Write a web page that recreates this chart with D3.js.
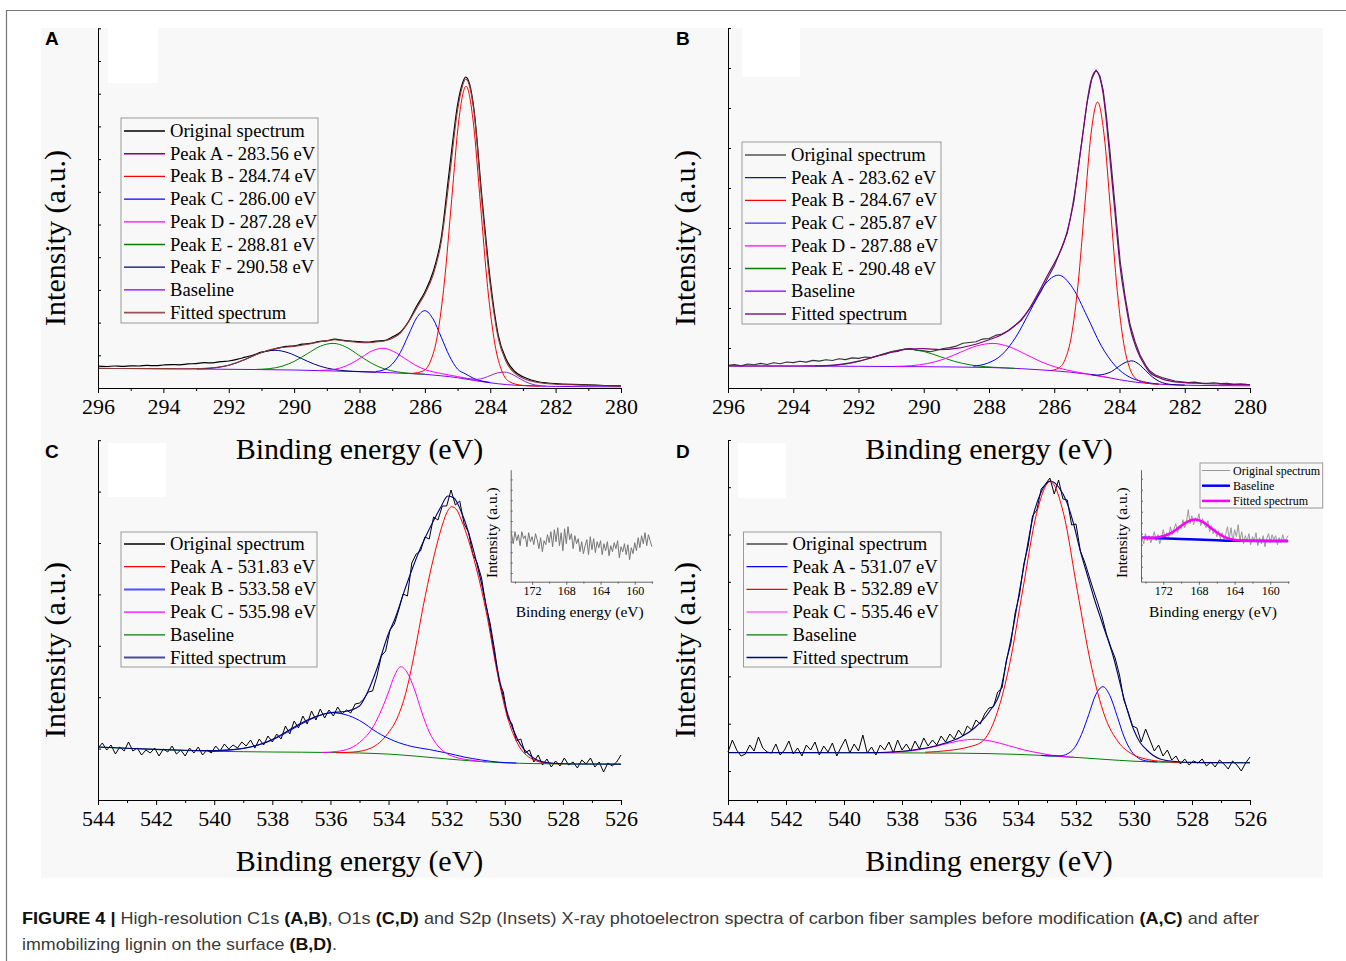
<!DOCTYPE html>
<html>
<head>
<meta charset="utf-8">
<script src="https://cdn.jsdelivr.net/npm/d3@7"></script>
<style>
body { margin: 0; background: #fff; }
svg { display: block; }
</style>
</head>
<body>
<svg id="fig" width="1346" height="961"></svg>
<script>
// ---------- data: C1s before modification (panel A) ----------
var baseA = [[296,19.6],[295,19.4],[294,19.2],[293,19.0],[292,18.7],[291,18.4],[290,18.0],[289,17.2],[288,16.3],[287.5,15.8],[287,15.2],[286.5,14.5],[286,13.7],[285.5,12.2],[285,10.3],[284.5,7.6],[284,5.2],[283.5,3.4],[283,2.4],[282.5,1.9],[282,1.6],[281,1.3],[280,1.2]];
var peakA_A = [[284.82,9.75],[284.61,9.15],[284.40,8.7],[284.19,10.05],[283.98,12.7],[283.77,15.2],[283.56,15.8],[283.35,14.0],[283.14,10.2],[282.93,6.4],[282.72,3.8],[282.51,2.45],[282.30,1.9]];
var peakB_A = [[286.4,14.6],[286.06,16.9],[285.84,25.9],[285.62,51.9],[285.40,106.9],[285.18,188.4],[284.96,268.2],[284.74,301.8],[284.52,266.2],[284.30,184.0],[284.08,100.6],[283.86,44.2],[283.64,16.6],[283.42,6.4],[283.0,2.6],[282.5,1.9]];
var peakC_A = [[287.5,16.5],[287.25,18.3],[287.0,23.8],[286.75,35.5],[286.5,53.1],[286.25,70.2],[286.0,77.3],[285.75,69.1],[285.5,50.8],[285.25,32.05],[285.0,18.9],[284.75,14.0],[284.5,9.5],[284.25,6.8],[284.0,5.4]];
var peakD_A = [[289.23,17.65],[288.91,18.2],[288.58,20.1],[288.26,24.35],[287.93,30.8],[287.61,37.2],[287.28,39.7],[286.96,36.5],[286.63,29.85],[286.31,23.2],[285.98,18.25],[285.5,14.5],[285.0,11.4],[284.5,8.2],[284.0,5.5]];
var peakE_A = [[291.15,18.65],[290.76,19.35],[290.37,21.75],[289.98,26.9],[289.59,34.4],[289.20,41.75],[288.81,44.65],[288.42,41.1],[288.03,33.0],[287.64,24.9],[287.25,19.2],[286.86,16.2],[286.47,14.75],[286.0,13.8]];
var peakF_A = [[292.98,19.15],[292.58,19.7],[292.18,21.4],[291.78,24.9],[291.38,30.3],[290.98,35.6],[290.58,37.7],[290.18,35.25],[289.78,29.6],[289.38,23.8],[288.98,19.8],[288.58,17.65],[288.18,16.7],[287.5,15.9]];
var fitA = [[296,19.6],[295,19.5],[294,19.4],[293.5,19.3],[293,19.5],[292.5,20.3],[292,22.8],[291.5,28.6],[291,35.6],[290.5,39.9],[290,41.6],[289.5,44.2],[289,47.5],[288.75,48.2],[288.5,47.3],[288,45.6],[287.75,45.3],[287.5,46.0],[287.25,47.0],[287,49.5],[286.75,55],[286.5,66],[286.25,80],[286,94],[285.75,113],[285.5,146],[285.25,210],[285,278],[284.875,299],[284.75,309],[284.625,301],[284.5,277],[284.25,184],[284,103],[283.75,49],[283.5,25.5],[283.25,14.8],[283,9.8],[282.75,7.0],[282.5,5.2],[282,3.8],[281.5,3.2],[281,2.7],[280.5,2.2],[280,1.9]];
var origA = [[296,21.8],[295.75,21.5],[295.5,22.0],[295.25,21.6],[295,22.1],[294.75,22.0],[294.5,22.6],[294.25,22.3],[294,23.0],[293.75,23.4],[293.5,23.2],[293.25,24.1],[293,24.4],[292.75,25.3],[292.5,25.1],[292.25,26.4],[292,27.0],[291.75,28.6],[291.5,30.8],[291.25,33.0],[291,35.8],[290.75,37.5],[290.5,39.9],[290.25,41.6],[290,42.2],[289.75,43.8],[289.5,44.6],[289.25,46.5],[289,47.2],[288.75,48.8],[288.5,47.6],[288.25,47.0],[288,46.3],[287.75,45.8],[287.5,46.9],[287.25,47.3],[287,51.0],[286.75,55.8],[286.5,66.5],[286.25,82],[286,96],[285.75,116],[285.5,150],[285.25,218],[285,283],[284.875,302],[284.75,311],[284.625,303],[284.5,279],[284.25,189],[284,108],[283.75,52],[283.5,28],[283.25,16.5],[283,11.2],[282.75,8.0],[282.5,6.0],[282.25,5.0],[282,4.4],[281.5,3.6],[281,3.1],[280.5,2.5],[280,2.2]];

// ---------- data: C1s after lignin (panel B) ----------
var baseB = [[296,22.0],[295,21.95],[294,21.9],[293,21.8],[292,21.7],[291,21.5],[290,21.3],[289,21.0],[288,20.5],[287.5,20.0],[287,19.3],[286.5,18.3],[286,17.2],[285.5,15.8],[285,13.9],[284.5,11.3],[284,8.3],[283.5,5.8],[283,4.3],[282.5,3.3],[282,2.8],[281,2.4],[280,2.2]];
var peakA_B = [[284.88,13.5],[284.67,12.9],[284.46,13.85],[284.25,16.35],[284.04,21.1],[283.83,25.45],[283.62,27.1],[283.41,23.9],[283.20,17.5],[282.99,11.05],[282.78,6.55],[282.57,4.3],[282.36,3.4],[282.0,2.9]];
var peakB_B = [[286.1,17.5],[285.87,19.9],[285.67,28.3],[285.47,52.8],[285.27,103.9],[285.07,180.4],[284.87,254.8],[284.67,286.0],[284.47,252.6],[284.27,175.9],[284.07,97.5],[283.87,44.4],[283.67,18.3],[283.47,8.7],[283.2,5.2],[282.8,3.7]];
var peakC_B = [[288.48,21.8],[288.05,24.75],[287.61,33.1],[287.18,50.8],[286.74,77.0],[286.31,102.6],[285.87,112.85],[285.44,100.3],[285.00,72.1],[284.57,42.9],[284.13,22.1],[283.70,11.0],[283.26,6.2],[282.8,3.9]];
var peakD_B = [[290.88,21.65],[290.38,22.35],[289.88,24.5],[289.38,28.95],[288.88,35.7],[288.38,42.05],[287.88,44.6],[287.38,41.2],[286.88,33.75],[286.38,25.9],[285.88,20.15],[285.38,16.4],[284.88,13.55],[284.4,10.8]];
var peakE_B = [[293.33,22.0],[292.86,22.5],[292.38,24.0],[291.91,27.25],[291.43,32.05],[290.96,36.75],[290.48,38.7],[290.01,36.65],[289.53,31.7],[289.06,26.65],[288.58,23.15],[288.11,21.3],[287.63,20.35],[287.2,19.6]];
var fitB = [[296,22.0],[295,22.0],[294,22.0],[293.5,22.1],[293,22.4],[292.5,23.8],[292,26.8],[291.5,31.3],[291,35.8],[290.5,38.9],[290,39.3],[289.5,38.4],[289,39.6],[288.5,43.0],[288,48.3],[287.66,52.5],[287.4,57.5],[287.05,67],[286.75,80],[286.44,98],[286.2,113],[285.93,129],[285.7,146],[285.52,168],[285.35,200],[285.21,233],[285.08,265],[284.96,293],[284.84,311],[284.72,317],[284.6,310],[284.5,294],[284.4,266],[284.29,228],[284.14,176],[283.98,121],[283.83,88],[283.68,61],[283.52,43],[283.37,31],[283.2,21.5],[283.07,15.5],[282.8,10.5],[282.55,7.6],[282,5.3],[281.5,4.6],[281,4.0],[280.5,3.6],[280,3.3]];
var origB = [[296.0,22.6],[295.8,23.4],[295.6,22.1],[295.4,24.0],[295.2,23.2],[295.0,24.6],[294.8,23.5],[294.6,25.2],[294.4,24.3],[294.2,26.0],[294.0,25.4],[293.8,26.8],[293.6,25.9],[293.4,27.6],[293.2,26.9],[293.0,28.3],[292.8,27.5],[292.6,29.2],[292.4,28.4],[292.2,30.1],[292.0,29.6],[291.8,31.0],[291.6,30.4],[291.4,32.2],[291.2,33.5],[291.0,35.8],[290.8,36.6],[290.6,38.9],[290.4,39.4],[290.2,37.6],[290.0,37.1],[289.8,36.2],[289.6,37.8],[289.4,39.5],[289.2,40.4],[289.0,41.9],[288.8,44.8],[288.6,45.5],[288.4,46.2],[288.2,48.9],[288.0,49.5],[287.8,52.6],[287.6,54.0],[287.4,57.5],[287.2,62.8],[287.0,68.0],[286.8,77.0],[286.6,86.0],[286.4,97.0],[286.2,110],[286.0,122],[285.8,138],[285.6,155],[285.4,186],[285.2,236],[285.0,284],[284.85,309],[284.72,318],[284.6,312],[284.5,298],[284.4,272],[284.29,236],[284.14,184],[283.98,127],[283.83,92],[283.68,64],[283.52,46],[283.37,33],[283.2,23],[283.07,17],[282.9,13.0],[282.7,10.5],[282.5,8.8],[282.3,7.0],[282.1,6.3],[281.9,5.4],[281.7,5.9],[281.5,5.0],[281.3,4.8],[281.1,5.3],[280.9,4.4],[280.7,4.6],[280.5,3.8],[280.3,4.3],[280.1,3.6],[280.0,3.5]];

// ---------- data: O1s before modification (panel C) ----------
var baseC = [[544,53.0],[543,51.6],[542,50.5],[541,49.5],[540,48.7],[539,48.3],[538,48.0],[537,47.8],[536,47.5],[535,47.0],[534,45.9],[533.5,44.9],[533,43.7],[532.5,42.4],[532,41.1],[531.5,39.9],[531,38.8],[530.5,37.9],[530,37.2],[529,36.4],[528,36.1],[527,35.9],[526,35.8]];
var redC = [[535.8,47.3],[535.2,48.0],[534.6,52],[534.02,66.7],[533.7,82],[533.41,106.7],[533.1,148],[532.81,193.3],[532.5,236],[532.2,270],[532.0,287],[531.83,293.3],[531.65,290],[531.48,279],[531.25,260],[530.99,233],[530.63,187],[530.27,129],[529.91,83],[529.55,56],[529.06,41],[528.58,37],[528.0,36.1]];
var blueC = [[540.2,48.6],[539.6,49.5],[539.0,51.5],[538.5,54.8],[538.0,60.0],[537.51,67.4],[537.0,76.0],[536.5,83.0],[535.98,87.3],[535.5,85.5],[535.0,79.5],[534.38,67.4],[533.8,59.0],[533.2,53.5],[532.6,50.5],[532.0,47.0],[531.4,43.0],[530.8,40.0],[530.2,37.8],[529.6,37.0]];
var magC = [[536.3,47.5],[535.8,48.5],[535.3,52],[534.9,60],[534.6,70],[534.26,89],[534.0,108],[533.8,124],[533.58,133.3],[533.35,127],[533.1,110],[532.87,89],[532.6,68],[532.3,54],[532.0,46.5],[531.6,42],[531.2,40],[530.63,38]];
var fitC = [[544,53.0],[543,51.7],[542,50.6],[541,49.8],[540,49.4],[539.5,50.2],[539,51.8],[538.5,55.0],[538,60.6],[537.5,68.6],[537,77.0],[536.5,83.5],[536,87.3],[535.5,88.5],[535,94],[534.74,106.7],[534.38,133],[534.02,165],[533.77,182],[533.41,213],[532.93,250],[532.44,280],[532.2,293],[531.96,304],[531.75,302],[531.48,287],[530.99,240],[530.63,193],[530.27,133],[529.91,87],[529.55,60],[529.06,43],[528.58,37.5],[528,36.3],[527,36.0],[526,35.9]];
var origC_start = 544, origC_step = 0.15;
var origC = [52,57,50,55,46,53,49,58,49,52,45,50,47,52,44,51,48,54,46,50,44,52,47,53,45,50,47,54,49,56,51,55,52,58,54,60,52,61,55,64,58,66,61,74,66,79,72,84,76,89,80,91,82,90,84,93,86,90,87,96,97,101,108,109,124,144,149,170,176,190,206,204,237,246,249,263,261,283,280,294,294,310,295,299,276,268,246,237,222,195,176,150,119,108,82,76,59,61,47,50,38,45,35,41,33,39,34,42,35,38,32,40,36,42,33,38,28,37,34,38,45];

// ---------- data: O1s after lignin (panel D) ----------
var baseD = [[544,47.5],[540,47.3],[537,47.0],[536,46.8],[535,46.4],[534,45.6],[533,44.4],[532,42.6],[531,40.6],[530,38.8],[529,37.8],[528,37.4],[526,37.2]];
var blueD = [[533.2,44.6],[532.9,44.0],[532.54,44.2],[532.30,46.1],[532.05,52.3],[531.81,65.6],[531.56,85.5],[531.32,105.2],[531.07,113.3],[530.83,104.3],[530.58,83.8],[530.34,63.0],[530.09,48.8],[529.85,41.9],[529.60,39.2],[529.2,38.1]];
var redD = [[537.2,47.8],[536.4,49.5],[535.71,53],[535.24,58.3],[534.77,82.9],[534.30,134.3],[533.83,211.1],[533.36,286.4],[532.89,318.4],[532.42,285.4],[531.95,208.7],[531.48,135],[531.01,84],[530.54,58],[530.07,46],[529.6,41],[529.0,38.5],[528.4,37.6]];
var magD = [[538.85,47.35],[538.29,47.8],[537.72,49.0],[537.16,51.6],[536.59,55.4],[536.03,59.2],[535.46,60.7],[534.90,58.7],[534.33,54.4],[533.77,49.9],[533.20,46.6],[532.64,43.9],[532.07,42.7]];
var fitD = [[544,47.4],[542,47.4],[540,47.3],[539,47.4],[538.5,47.8],[538,48.8],[537.5,50.5],[537,53.0],[536.5,57.0],[536,62.5],[535.5,72],[535,88],[534.6,110],[534.39,140],[534.15,175],[533.93,212],[533.7,250],[533.47,285],[533.2,308],[532.89,319],[532.6,313],[532.32,298],[532.1,278],[531.86,250],[531.6,224],[531.4,204],[531.06,174],[530.71,143],[530.37,104],[530.02,71],[529.8,58],[529.56,50],[529.1,41],[528.5,38.3],[528,37.6],[527,37.3],[526,37.2]];
var origD_start = 544, origD_step = 0.15;
var origD = [48,60,50,44,46,55,49,63,52,48,47,56,45,50,59,46,52,44,55,50,58,45,54,48,57,44,53,61,47,56,49,65,47,53,45,55,50,58,47,60,50,56,49,59,51,62,54,60,55,64,58,66,61,70,64,74,70,80,76,86,92,93,108,112,140,156,187,205,236,254,284,290,311,316,322,306,320,301,300,275,276,249,238,224,210,197,183,166,153,142,125,100,88,74,72,58,71,60,49,55,44,50,40,44,36,41,35,39,37,41,34,38,33,40,36,31,39,35,29,37,43];

// ---------- data: S2p insets ----------
var insetC_start = 174.4, insetC_step = 0.2;
var insetC = [48,38,50,41,47,36,50,43,46,35,49,40,45,37,48,42,33,44,30,41,37,47,39,50,35,52,40,54,36,49,31,53,38,55,42,48,33,46,38,43,30,40,28,36,42,27,45,32,43,29,40,34,41,27,38,31,40,26,36,30,39,33,41,24,35,30,38,27,37,22,34,28,39,31,44,34,46,38,49,36,47,41,35];
var insetD_start = 174.4, insetD_step = 0.2;
var insetD = [45,38,48,41,46,39,44,50,41,47,38,44,52,43,49,45,55,47,53,58,49,56,53,62,54,60,72,58,66,57,64,60,68,56,63,58,54,61,50,56,48,53,45,51,43,49,42,47,55,43,54,40,52,45,57,41,50,38,46,40,48,37,45,41,49,36,44,38,46,35,43,48,39,47,42,46,37,44,39,47,40,43,46];
var insetD_base = [[174.5,44.0],[170,42.7],[166,41.5],[164.5,41.0],[158,40.6]];
var insetD_fit = [[174.5,44.0],[173.62,43.9],[172.75,44.3],[171.88,45.9],[171.01,49.4],[170.14,54.8],[169.27,60.05],[168.4,62.2],[167.53,59.55],[166.66,53.8],[165.79,47.9],[164.92,43.8],[164.05,41.85],[163.18,41.0],[158,40.6]];

// ---------- ticks ----------
var ticksC1s = [296,294,292,290,288,286,284,282,280];
var minorC1s = [295,293,291,289,287,285,283,281];
var ticksO1s = [544,542,540,538,536,534,532,530,528,526];
var minorO1s = [543,541,539,537,535,533,531,529,527];
var ticksS2p = [172,168,164,160];
var minorS2p = [174,170,166,162,158];
var yTicksA = [32.7,65.4,98.1,130.8,163.5,196.2,228.9,261.6,294.3,327,359.7];
var yTicksB = [40,80,120,160,200,240,280,320,360];
var yTicksC = [51.4,102.8,154.2,205.6,257,308.4,359.8];
var yTicksD = [29,76.3,123.6,170.9,218.2,265.5,312.8,360];
var yTicksInC = [8.7,19.1,29.5,39.9,50.3,60.7,71.1,81.5,91.9,102.3];
var yTicksInD = [4,15,26,37,48,59,70,81,92,103];

var captionParts = [
  ["FIGURE 4 | ", true], ["High-resolution C1s ", false], ["(A,B)", true], [", O1s ", false],
  ["(C,D)", true], [" and S2p (Insets) X-ray photoelectron spectra of carbon fiber samples before modification ", false],
  ["(A,C)", true], [" and after", false]
];
var captionParts2 = [["immobilizing lignin on the surface ", false], ["(B,D)", true], [".", false]];

// ---------- drawing ----------
var serif = "'Liberation Serif', 'Times New Roman', serif";
var sans = "'Liberation Sans', Arial, sans-serif";
var svg = d3.select("#fig");

svg.append("rect").attr("width", 1346).attr("height", 961).attr("fill", "#fff");
svg.append("rect").attr("x", 41).attr("y", 28).attr("width", 1282).attr("height", 850).attr("fill", "#f8f8f8");
svg.append("path").attr("d", "M6.5,961V10.5H1346").attr("fill", "none").attr("stroke", "#777").attr("stroke-width", 1.2);

function grid(vals, start, step) {
    return vals.map(function(v, i) { return [start - i * step, v]; });
}

function addLine(g, data, x, y, color, width, smooth) {
    var line = d3.line()
        .x(function(d) { return x(d[0]); })
        .y(function(d) { return y(d[1]); })
        .curve(smooth ? d3.curveMonotoneX : d3.curveLinear);
    g.append("path")
        .datum(data)
        .attr("d", line)
        .attr("fill", "none")
        .attr("stroke", color)
        .attr("stroke-width", width)
        .attr("stroke-linejoin", "round");
}

function styleAxis(a, size) {
    a.attr("font-family", serif).attr("font-size", size);
    a.selectAll("path, line").attr("stroke", "#000").attr("stroke-width", 1);
    a.selectAll("text").attr("fill", "#000");
}

function drawPanel(p) {
    var g = svg.append("g");
    var x = d3.scaleLinear().domain(p.xDomain).range([p.left, p.right]);
    var y = d3.scaleLinear().domain([0, 360]).range([p.axisY, p.axisY - 360]);

    g.append("rect").attr("x", p.patch[0]).attr("y", p.patch[1])
        .attr("width", p.patch[2]).attr("height", p.patch[3]).attr("fill", "#fff");

    g.append("text").attr("x", p.labelPos[0]).attr("y", p.labelPos[1])
        .attr("font-family", sans).attr("font-weight", "bold").attr("font-size", 19)
        .text(p.label);

    // series
    p.series.forEach(function(s) {
        addLine(g, s.data, x, y, s.color, s.width, s.smooth);
    });

    // axes
    var xa = g.append("g").attr("transform", "translate(0," + p.axisY + ")")
        .call(d3.axisBottom(x).tickValues(p.xMajor).tickSize(5).tickSizeOuter(0)
            .tickPadding(5).tickFormat(d3.format("d")));
    styleAxis(xa, 22);
    var xm = g.append("g").attr("transform", "translate(0," + p.axisY + ")")
        .call(d3.axisBottom(x).tickValues(p.xMinor).tickSize(3).tickFormat(""));
    xm.select(".domain").remove();
    styleAxis(xm, 22);
    var ya = g.append("g").attr("transform", "translate(" + p.left + ",0)")
        .call(d3.axisRight(y).tickValues(p.yTicks).tickSize(3).tickSizeOuter(0).tickFormat(""));
    styleAxis(ya, 22);

    g.append("text")
        .attr("x", (p.left + p.right) / 2).attr("y", p.axisY + 71)
        .attr("text-anchor", "middle").attr("font-family", serif).attr("font-size", 30)
        .text("Binding energy (eV)");
    g.append("text")
        .attr("transform", "translate(" + (p.left - 33) + "," + (p.axisY - 150) + ") rotate(-90)")
        .attr("text-anchor", "middle").attr("font-family", serif).attr("font-size", 30)
        .text("Intensity (a.u.)");

    // legend
    var L = p.legend;
    g.append("rect").attr("x", L.x).attr("y", L.y).attr("width", L.w).attr("height", L.h)
        .attr("fill", "none").attr("stroke", "#999").attr("stroke-width", 1);
    L.items.forEach(function(it, i) {
        var cy = L.first + i * 22.7;
        g.append("line").attr("x1", L.x + 3).attr("x2", L.x + 44).attr("y1", cy).attr("y2", cy)
            .attr("stroke", it[1]).attr("stroke-width", it[2]);
        g.append("text").attr("x", L.x + 49).attr("y", cy + 6)
            .attr("font-family", serif).attr("font-size", 18.6).attr("fill", "#000").text(it[0]);
    });
    return g;
}

function drawInset(p) {
    var g = svg.append("g");
    var x = d3.scaleLinear().domain([174.5, 157.9]).range([p.left, p.right]);
    var y = d3.scaleLinear().domain([0, 112]).range([p.axisY, p.axisY - 112]);
    p.series.forEach(function(s) { addLine(g, s.data, x, y, s.color, s.width, s.smooth); });

    var xa = g.append("g").attr("transform", "translate(0," + p.axisY + ")")
        .call(d3.axisBottom(x).tickValues(ticksS2p).tickSize(3).tickSizeOuter(0)
            .tickPadding(2).tickFormat(d3.format("d")));
    styleAxis(xa, 12);
    xa.selectAll("path, line").attr("stroke", "#666");
    var xm = g.append("g").attr("transform", "translate(0," + p.axisY + ")")
        .call(d3.axisBottom(x).tickValues(minorS2p).tickSize(2).tickFormat(""));
    xm.select(".domain").remove();
    styleAxis(xm, 12);
    xm.selectAll("line").attr("stroke", "#666");
    var ya = g.append("g").attr("transform", "translate(" + p.left + ",0)")
        .call(d3.axisRight(y).tickValues(p.yTicks).tickSize(2).tickSizeOuter(0).tickFormat(""));
    styleAxis(ya, 12);
    ya.selectAll("path, line").attr("stroke", "#666");

    g.append("text").attr("x", (p.left + p.right) / 2 - 2).attr("y", p.axisY + 35)
        .attr("text-anchor", "middle").attr("font-family", serif).attr("font-size", 15.5)
        .text("Binding energy (eV)");
    g.append("text")
        .attr("transform", "translate(" + (p.left - 14) + "," + (p.axisY - 49) + ") rotate(-90)")
        .attr("text-anchor", "middle").attr("font-family", serif).attr("font-size", 15.5)
        .text("Intensity (a.u.)");

    if (p.legend) {
        var L = p.legend;
        g.append("rect").attr("x", L.x).attr("y", L.y).attr("width", L.w).attr("height", L.h)
            .attr("fill", "#f8f8f8").attr("stroke", "#999").attr("stroke-width", 1);
        L.items.forEach(function(it, i) {
            var cy = L.y + 7.5 + i * 15.2;
            g.append("line").attr("x1", L.x + 2).attr("x2", L.x + 30).attr("y1", cy).attr("y2", cy)
                .attr("stroke", it[1]).attr("stroke-width", it[2]);
            g.append("text").attr("x", L.x + 33).attr("y", cy + 4)
                .attr("font-family", serif).attr("font-size", 12).attr("fill", "#000").text(it[0]);
        });
    }
}

drawPanel({
    label: "A", labelPos: [45, 45], left: 98, right: 621, axisY: 388, xDomain: [296, 280],
    xMajor: ticksC1s, xMinor: minorC1s, yTicks: yTicksA, patch: [108, 28, 50, 55],
    series: [
        {data: baseA, color: "#8000ff", width: 1, smooth: true},
        {data: peakF_A, color: "#000080", width: 1, smooth: true},
        {data: peakE_A, color: "#008000", width: 1, smooth: true},
        {data: peakD_A, color: "#ff00ff", width: 1, smooth: true},
        {data: peakC_A, color: "#0000ff", width: 1, smooth: true},
        {data: peakA_A, color: "#8a2be2", width: 1, smooth: true},
        {data: peakB_A, color: "#ff0000", width: 1, smooth: true},
        {data: origA, color: "#000", width: 1.2, smooth: true},
        {data: fitA, color: "#8b3a3a", width: 1.1, smooth: true}
    ],
    legend: {x: 121, y: 118, w: 197, h: 205, first: 131, items: [
        ["Original spectrum", "#000", 1.3], ["Peak A - 283.56 eV", "#800080", 1.5],
        ["Peak B - 284.74 eV", "#ff0000", 1.2], ["Peak C - 286.00 eV", "#0000ff", 1.2],
        ["Peak D - 287.28 eV", "#ff00ff", 1.2], ["Peak E - 288.81 eV", "#008000", 1.5],
        ["Peak F - 290.58 eV", "#000080", 1.3], ["Baseline", "#8000ff", 1.3],
        ["Fitted spectrum", "#995050", 1.6]
    ]}
});

drawPanel({
    label: "B", labelPos: [676, 45], left: 728, right: 1250, axisY: 388, xDomain: [296, 280],
    xMajor: ticksC1s, xMinor: minorC1s, yTicks: yTicksB, patch: [742, 28, 58, 49],
    series: [
        {data: origB, color: "#333", width: 1.1, smooth: false},
        {data: baseB, color: "#8000ff", width: 1, smooth: true},
        {data: peakE_B, color: "#008000", width: 1, smooth: true},
        {data: peakD_B, color: "#ff00ff", width: 1, smooth: true},
        {data: peakC_B, color: "#0000ff", width: 1, smooth: true},
        {data: peakA_B, color: "#000080", width: 1, smooth: true},
        {data: peakB_B, color: "#ff0000", width: 1, smooth: true},
        {data: fitB, color: "#800080", width: 1.2, smooth: true}
    ],
    legend: {x: 742, y: 142, w: 199, h: 182, first: 155, items: [
        ["Original spectrum", "#555", 1.5], ["Peak A - 283.62 eV", "#1a1a80", 1.3],
        ["Peak B - 284.67 eV", "#ff0000", 1.2], ["Peak C - 285.87 eV", "#3030ff", 1.3],
        ["Peak D - 287.88 eV", "#ff00ff", 1.2], ["Peak E - 290.48 eV", "#008000", 1.3],
        ["Baseline", "#8000ff", 1.3], ["Fitted spectrum", "#802080", 1.5]
    ]}
});

drawPanel({
    label: "C", labelPos: [45, 458], left: 98, right: 621, axisY: 800, xDomain: [544, 526],
    xMajor: ticksO1s, xMinor: minorO1s, yTicks: yTicksC, patch: [108, 443, 58, 54],
    series: [
        {data: grid(origC, origC_start, origC_step), color: "#000", width: 1, smooth: false},
        {data: baseC, color: "#008000", width: 1, smooth: true},
        {data: blueC, color: "#0000ff", width: 1, smooth: true},
        {data: magC, color: "#ff00ff", width: 1, smooth: true},
        {data: redC, color: "#ff0000", width: 1, smooth: true},
        {data: fitC, color: "#000080", width: 1.1, smooth: true}
    ],
    legend: {x: 121, y: 532, w: 196, h: 135, first: 544, items: [
        ["Original spectrum", "#000", 1.3], ["Peak A - 531.83 eV", "#ff0000", 1.2],
        ["Peak B - 533.58 eV", "#5050ff", 2], ["Peak C - 535.98 eV", "#ff00ff", 1.2],
        ["Baseline", "#008000", 1.2], ["Fitted spectrum", "#4a4a9a", 2]
    ]}
});

drawPanel({
    label: "D", labelPos: [676, 458], left: 728, right: 1250, axisY: 800, xDomain: [544, 526],
    xMajor: ticksO1s, xMinor: minorO1s, yTicks: yTicksD, patch: [738, 443, 48, 55],
    series: [
        {data: grid(origD, origD_start, origD_step), color: "#000", width: 1, smooth: false},
        {data: baseD, color: "#008000", width: 1, smooth: true},
        {data: magD, color: "#ff00ff", width: 1, smooth: true},
        {data: blueD, color: "#0000ff", width: 1, smooth: true},
        {data: redD, color: "#ff0000", width: 1, smooth: true},
        {data: fitD, color: "#000080", width: 1.1, smooth: true}
    ],
    legend: {x: 743.5, y: 532, w: 197.5, h: 135, first: 544, items: [
        ["Original spectrum", "#444", 1.5], ["Peak A - 531.07 eV", "#0000ff", 1.2],
        ["Peak B - 532.89 eV", "#ff0000", 1.2], ["Peak C - 535.46 eV", "#ff66ff", 1.5],
        ["Baseline", "#008000", 1.2], ["Fitted spectrum", "#000080", 1.3]
    ]}
});

drawInset({
    left: 510.7, right: 652.7, axisY: 581.7, yTicks: yTicksInC,
    series: [{data: grid(insetC, insetC_start, insetC_step), color: "#777", width: 1, smooth: false}]
});

drawInset({
    left: 1141, right: 1289, axisY: 581.7, yTicks: yTicksInD,
    series: [
        {data: grid(insetD, insetD_start, insetD_step), color: "#999", width: 1, smooth: false},
        {data: insetD_base, color: "#0000ff", width: 2.5, smooth: true},
        {data: insetD_fit, color: "#ff00ff", width: 2.5, smooth: true}
    ],
    legend: {x: 1200, y: 463, w: 122.7, h: 45, items: [
        ["Original spectrum", "#999", 1], ["Baseline", "#0000ff", 2.5], ["Fitted spectrum", "#ff00ff", 2.5]
    ]}
});

// caption
function caption(parts, yPos, len) {
    var t = svg.append("text").attr("x", 22).attr("y", yPos)
        .attr("font-family", sans).attr("font-size", 17).attr("fill", "#3a3a3a")
        .attr("textLength", len).attr("lengthAdjust", "spacingAndGlyphs");
    parts.forEach(function(pt) {
        t.append("tspan").attr("font-weight", pt[1] ? "bold" : "normal")
            .attr("fill", pt[1] ? "#111" : "#3a3a3a").text(pt[0]);
    });
}
caption(captionParts, 924, 1237);
caption(captionParts2, 950, 315);
</script>
</body>
</html>
